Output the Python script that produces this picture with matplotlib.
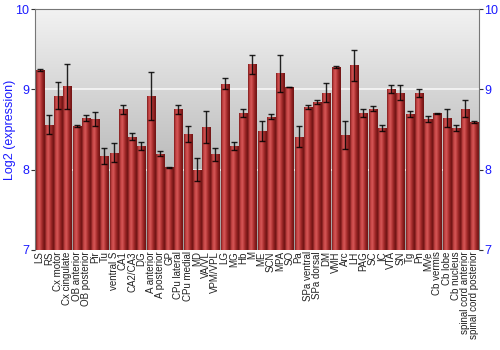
import numpy as np
import matplotlib
matplotlib.use("Agg")
import matplotlib.pyplot as plt
from matplotlib.colors import LinearSegmentedColormap

plt.rcParams["font.family"] = ["Liberation Sans", "DejaVu Sans"]

regions = ["LS", "RS", "Cx motor", "Cx cingulate", "OB anterior", "OB posterior",
           "Pir", "Tu", "ventral S", "CA1", "CA2/CA3", "DG", "A anterior",
           "A posterior", "GP", "CPu lateral", "CPu medial", "MD", "VA/VL",
           "VPM/VPL", "LG", "MG", "Hb", "M", "ME", "SCN", "MPA", "SO", "Pa",
           "SPa ventral", "SPa dorsal", "DM", "VMH", "Arc", "LH", "PAG", "SC",
           "IC", "VTA", "SN", "Tg", "Pn", "MVe", "Cb vermis", "Cb lobe",
           "Cb nucleus", "spinal cord anterior", "spinal cord posterior"]

expr = [9.24, 8.56, 8.92, 9.04, 8.54, 8.64, 8.63, 8.17, 8.21, 8.75, 8.41, 8.30,
        8.92, 8.20, 8.03, 8.75, 8.44, 8.00, 8.53, 8.19, 9.07, 8.29, 8.70, 9.31,
        8.48, 8.66, 9.20, 9.03, 8.41, 8.78, 8.84, 8.96, 9.28, 8.43, 9.30, 8.71,
        8.76, 8.52, 9.00, 8.96, 8.69, 8.95, 8.63, 8.70, 8.64, 8.52, 8.76, 8.59]

err = [0.01, 0.12, 0.17, 0.28, 0.01, 0.04, 0.09, 0.10, 0.12, 0.06, 0.045, 0.05,
       0.30, 0.03, 0.005, 0.055, 0.10, 0.14, 0.20, 0.08, 0.07, 0.05, 0.05, 0.12,
       0.12, 0.03, 0.23, 0.005, 0.13, 0.02, 0.025, 0.12, 0.01, 0.17, 0.19, 0.05,
       0.03, 0.04, 0.05, 0.09, 0.04, 0.05, 0.04, 0.01, 0.11, 0.04, 0.11, 0.01]

blue = "#1a1aff"

fig = plt.figure(figsize=(5, 3.5), dpi=100)
ax = fig.add_axes([0.07, 0.286, 0.888, 0.688])

x = np.arange(len(regions))
ymin, ymax = 7, 10

# gray gradient background
bg = LinearSegmentedColormap.from_list("bg", ["#9e9e9e", "#f2f2f2"])
ax.imshow(np.linspace(0, 1, 256).reshape(-1, 1), cmap=bg, origin="lower",
          extent=[-0.5, len(regions) - 0.5, ymin, ymax], aspect="auto", zorder=0)

for g in [8, 9]:
    ax.axhline(g, color="white", lw=1.2, alpha=0.8, zorder=1)

# bars with a horizontal shading
shade = LinearSegmentedColormap.from_list(
    "bar", ["#7c1c1c", "#c84646", "#d45656", "#b23434", "#8a1e1e", "#6e1414"])
grad = np.linspace(0, 1, 64).reshape(1, -1)
bars = ax.bar(x, np.array(expr) - ymin, bottom=ymin, width=0.87,
              color="#b03030", edgecolor="none", zorder=2)
for b in bars:
    im = ax.imshow(grad, cmap=shade, aspect="auto", zorder=2.5,
                   extent=[b.get_x(), b.get_x() + b.get_width(), ymin, b.get_y() + b.get_height()])
    im.set_clip_path(b)

ax.errorbar(x, expr, yerr=err, fmt="none", ecolor="black", elinewidth=1,
            capsize=2, capthick=1, alpha=0.85, zorder=3)

ax.set_xlim(-0.5, len(regions) - 0.5)
ax.set_ylim(ymin, ymax)
ax.set_yticks([7, 8, 9, 10])
ax.tick_params(axis="y", which="both", left=True, right=True, labelleft=True,
               labelright=True, labelcolor=blue, labelsize=9, length=3,
               color="#333333", pad=1)
ax.set_xticks(x)
ax.set_xticklabels(regions, rotation=90, fontsize=7, color="#222222")
ax.tick_params(axis="x", length=0, pad=1)
ax.set_ylabel("Log2 (expression)", color=blue, fontsize=9)
ax.yaxis.set_label_coords(-0.042, 0.5)

for s in ["left", "right", "top"]:
    ax.spines[s].set_color("#777777")
ax.spines["bottom"].set_visible(False)

fig.savefig("out.png", dpi=100)
